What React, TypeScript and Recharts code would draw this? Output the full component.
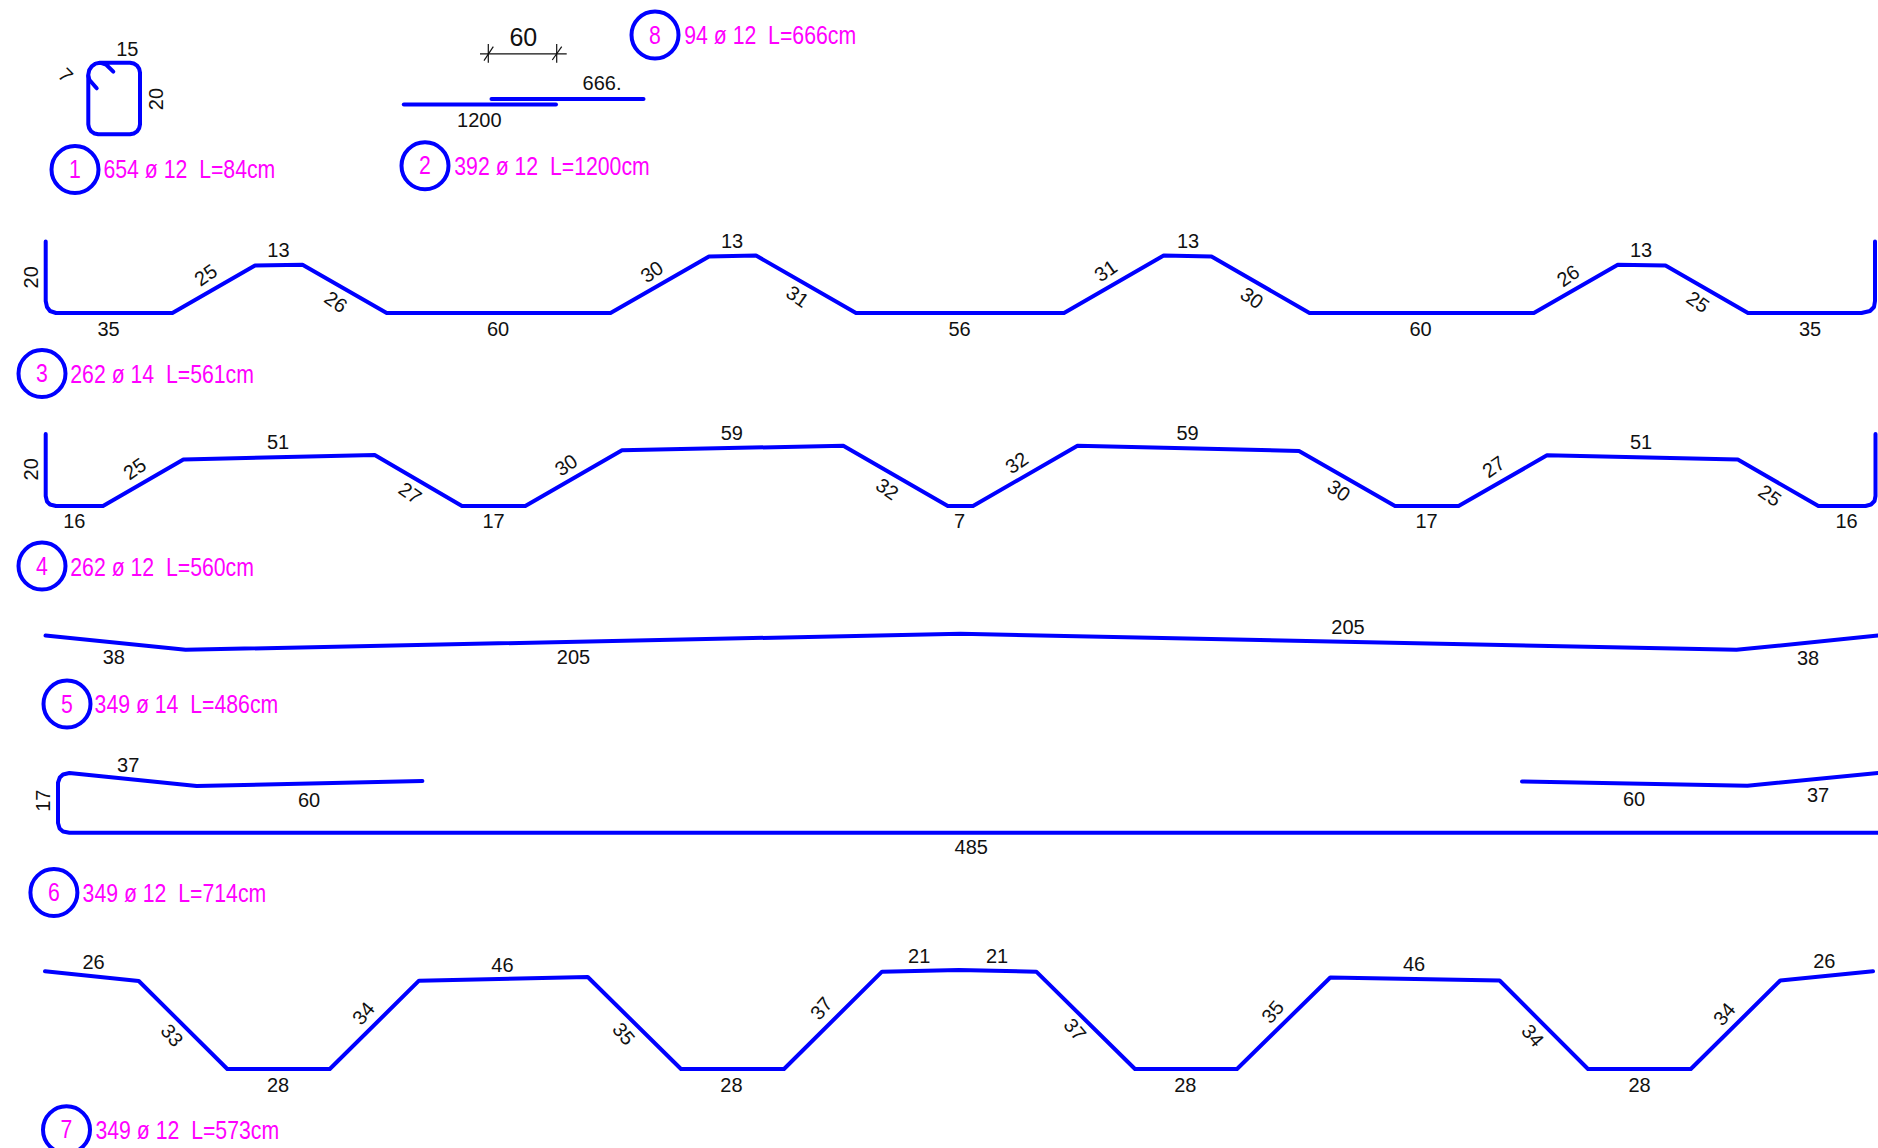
import React from "react";
import { ComposedChart, Line, Scatter, XAxis, YAxis } from "recharts";

const WIDTH = 1878;
const HEIGHT = 1148;
const BLUE = "#0000FF";
const MAGENTA = "#FF00FF";
const INK = "#111111";

type P = { x: number; y: number };
type Tag = P & { text: string };

const pts = (rows: number[][]): P[] => rows.map(([x, y]) => ({ x, y }));

// bar 1: stirrup with its two hooks
const stirrup = pts([
  [113.3, 71.7], [106, 64.5], [100, 62.7], [130, 62.7], [133.8, 63.5], [137.1, 65.6], [139.2, 68.9], [140, 72.7],
  [140, 124.3], [139.2, 128.1], [137.1, 131.4], [133.8, 133.5], [130, 134.3], [98.3, 134.3], [94.5, 133.5], [91.2, 131.4],
  [89.1, 128.1], [88.3, 124.3], [88.3, 74.7], [89.2, 70.2], [91.7, 66.4], [95.5, 63.6], [100, 62.7],
]);
const stirrupHook = pts([[88.3, 76], [89.5, 80], [96.7, 88.3]]);

// bars 2 and 8: straight lapped bars, with the 60 lap dimension
const bar2 = pts([[403.8, 104.5], [556, 104.5]]);
const bar8 = pts([[491.5, 99], [643.5, 99]]);
const lapLine = pts([[480, 53.8], [566.7, 53.8]]);
const lapTickA = pts([[488.3, 44], [488.3, 62.7]]);
const lapTickB = pts([[556.7, 44], [556.7, 62.7]]);
const lapSlashA = pts([[484, 60.7], [493.3, 46.7]]);
const lapSlashB = pts([[552.3, 60], [561.7, 46.7]]);

const bar3 = pts([
  [45.7, 241.5], [45.7, 301], [47, 307], [50, 311], [56, 313], [172.4, 313], [255, 265.5], [302.5, 264.8], [386.7, 313],
  [610.5, 313], [709, 256.5], [756, 255.5], [856, 313], [1064, 313], [1163.7, 255.5], [1211.5, 256.5], [1309.5, 313],
  [1533.8, 313], [1617.8, 264.8], [1665.5, 265.5], [1748, 313], [1861.5, 313], [1870, 311], [1874, 307], [1875, 301], [1875, 241.5],
]);

const bar4 = pts([
  [45.7, 434], [45.7, 496], [47, 501.5], [50, 504.5], [56, 506], [103, 506], [183.4, 459.5], [374.7, 455], [462, 506],
  [525.3, 506], [622, 450.3], [843.3, 445.7], [947.8, 506], [973, 506], [1077.5, 445.7], [1299, 451], [1395, 506],
  [1458.6, 506], [1547, 455.3], [1737.8, 459.5], [1818.4, 506], [1865.5, 506], [1871, 504.5], [1874.5, 501], [1875.5, 496], [1875.5, 434],
]);

const bar5 = pts([[45.5, 635.6], [185.6, 649.8], [960.5, 633.8], [1736.5, 649.8], [1878, 635.6]]);

const bar6Left = pts([
  [422.4, 781], [196.7, 786], [69.4, 773], [63, 774.5], [59.8, 777.5], [58, 782.7], [58, 823], [59.6, 828.5],
  [63, 831.5], [69.4, 832.7], [1878, 832.7],
]);
const bar6Right = pts([[1522, 781.5], [1747.4, 785.7], [1878, 773]]);

const bar7 = pts([
  [45, 971.3], [138.8, 981], [227.3, 1069], [329.8, 1069], [419, 980.7], [587.8, 977], [681, 1069], [784, 1069],
  [882, 971.7], [958.8, 970], [1036.3, 971.7], [1135, 1069], [1237, 1069], [1330.3, 977.5], [1499.6, 980.5],
  [1588, 1069], [1690.8, 1069], [1780.3, 980.5], [1873, 971.3],
]);

const heavyBars = [stirrup, stirrupHook, bar2, bar8, bar3, bar4, bar5, bar6Left, bar6Right, bar7];
const thinBars = [lapLine, lapTickA, lapTickB, lapSlashA, lapSlashB];

const tags = (rows: [string, number, number][]): Tag[] => rows.map(([text, x, y]) => ({ text, x, y }));

const flatLabels = tags([
  ["15", 127.3, 49.3], ["666.", 602, 83.3], ["1200", 479.3, 120],
  ["35", 108.5, 328.5], ["13", 278.4, 250], ["60", 498, 328.5], ["13", 732, 240.7], ["56", 959.6, 328.5], ["13", 1188, 240.7],
  ["60", 1420.5, 328.5], ["13", 1641, 250], ["35", 1810, 328.5],
  ["16", 74.3, 521], ["51", 278, 442], ["17", 493.5, 521], ["59", 731.8, 433], ["7", 959.6, 521],
  ["59", 1187.5, 433], ["17", 1426.5, 521], ["51", 1641, 442], ["16", 1846.5, 521],
  ["38", 113.8, 657.3], ["205", 573.5, 657.3], ["205", 1348, 626.8], ["38", 1808, 657.6],
  ["37", 128.2, 764.5], ["60", 309, 799.5], ["485", 971.3, 847], ["60", 1634, 799], ["37", 1818, 794.5],
  ["26", 93.5, 961.5], ["28", 278, 1084.5], ["46", 502.4, 964.8], ["28", 731.4, 1084.5], ["21", 919.2, 955.5], ["21", 997, 955.5],
  ["28", 1185.3, 1084.5], ["46", 1414, 964], ["28", 1639.6, 1084.5], ["26", 1824.3, 961],
]);
const lapLabel = tags([["60", 523.3, 36.7]]);
const uprightLabels = tags([["20", 155.7, 99], ["20", 30.6, 277.3], ["20", 30.6, 469.3], ["17", 42.9, 800.7]]);
const hookLabel = tags([["7", 65.7, 75.3]]);
const shallowRise = tags([
  ["25", 205.7, 275], ["30", 651.8, 271.7], ["31", 1105.7, 270.7], ["26", 1568, 275.7],
  ["25", 134.7, 468.7], ["30", 566, 465], ["32", 1016.7, 462.7], ["27", 1493.5, 466.7],
]);
const shallowFall = tags([
  ["26", 336, 301.8], ["31", 797.6, 296.5], ["30", 1252, 297.8], ["25", 1698, 301.8],
  ["27", 410.2, 493], ["32", 887.3, 489], ["30", 1339, 490.5], ["25", 1770, 495.5],
]);
const steepRise = tags([
  ["34", 363.3, 1013.3], ["37", 821.2, 1008.3], ["35", 1272.6, 1011.7], ["34", 1724.2, 1014],
]);
const steepFall = tags([
  ["33", 172, 1035.2], ["35", 623.8, 1033.8], ["37", 1075, 1029.5], ["34", 1532.8, 1035.5],
]);

const balloons = tags([
  ["1", 75, 169.5], ["2", 425, 165.7], ["8", 655, 35], ["3", 42, 373.5],
  ["4", 42, 566], ["5", 67, 704], ["6", 53.9, 892.5], ["7", 66.5, 1129.8],
]);
const schedule = tags([
  ["654 ø 12  L=84cm", 103.5, 169.5],
  ["392 ø 12  L=1200cm", 454.3, 166],
  ["94 ø 12  L=666cm", 684.3, 35],
  ["262 ø 14  L=561cm", 70.3, 374],
  ["262 ø 12  L=560cm", 70.3, 567.5],
  ["349 ø 14  L=486cm", 94.6, 704.3],
  ["349 ø 12  L=714cm", 82.6, 893],
  ["349 ø 12  L=573cm", 95.5, 1130],
]);

const FONT = "'Liberation Sans', Arial, sans-serif";

// Scatter shapes: the points only carry the text, everything is placed by the scales
const dimText = (angle: number, size = 20) => (props: any) => (
  <text
    x={props.cx}
    y={props.cy}
    fill={INK}
    fontFamily={FONT}
    fontSize={size}
    textAnchor="middle"
    dominantBaseline="central"
    transform={angle ? `rotate(${angle} ${props.cx} ${props.cy})` : undefined}
  >
    {props.payload.text}
  </text>
);

const Balloon = (props: any) => (
  <g>
    <circle cx={props.cx} cy={props.cy} r={23.5} fill="none" stroke={BLUE} strokeWidth={4} />
    <text
      transform={`translate(${props.cx} ${props.cy}) scale(0.85 1)`}
      fill={MAGENTA}
      fontFamily={FONT}
      fontSize={25}
      textAnchor="middle"
      dominantBaseline="central"
    >
      {props.payload.text}
    </text>
  </g>
);

const ScheduleText = (props: any) => (
  <text
    transform={`translate(${props.cx} ${props.cy}) scale(0.85 1)`}
    fill={MAGENTA}
    fontFamily={FONT}
    fontSize={25}
    dominantBaseline="central"
    style={{ whiteSpace: "pre" }}
  >
    {props.payload.text}
  </text>
);

const labelGroups: [Tag[], any][] = [
  [flatLabels, dimText(0)],
  [lapLabel, dimText(0, 25)],
  [uprightLabels, dimText(-90)],
  [hookLabel, dimText(45)],
  [shallowRise, dimText(-35)],
  [shallowFall, dimText(35)],
  [steepRise, dimText(-50)],
  [steepFall, dimText(50)],
  [balloons, Balloon],
  [schedule, ScheduleText],
];

export default function App() {
  return (
    <div style={{ position: "absolute", left: 0, top: 0, width: WIDTH, height: HEIGHT, background: "#FFFFFF" }}>
      <ComposedChart width={WIDTH} height={HEIGHT} margin={{ top: 0, right: 0, bottom: 0, left: 0 }}>
        <XAxis type="number" dataKey="x" domain={[0, WIDTH]} hide allowDataOverflow />
        <YAxis type="number" dataKey="y" domain={[0, HEIGHT]} reversed hide allowDataOverflow width={0} />

        {heavyBars.map((bar, i) => (
          <Line
            key={`bar-${i}`}
            data={bar}
            dataKey="y"
            type="linear"
            stroke={BLUE}
            strokeWidth={4}
            strokeLinecap="round"
            strokeLinejoin="round"
            dot={false}
            activeDot={false}
            isAnimationActive={false}
          />
        ))}
        {thinBars.map((bar, i) => (
          <Line
            key={`lap-${i}`}
            data={bar}
            dataKey="y"
            type="linear"
            stroke={INK}
            strokeWidth={1.2}
            dot={false}
            activeDot={false}
            isAnimationActive={false}
          />
        ))}
        {labelGroups.map(([data, shape], i) => (
          <Scatter key={`labels-${i}`} data={data} dataKey="y" shape={shape} isAnimationActive={false} />
        ))}
      </ComposedChart>
    </div>
  );
}
